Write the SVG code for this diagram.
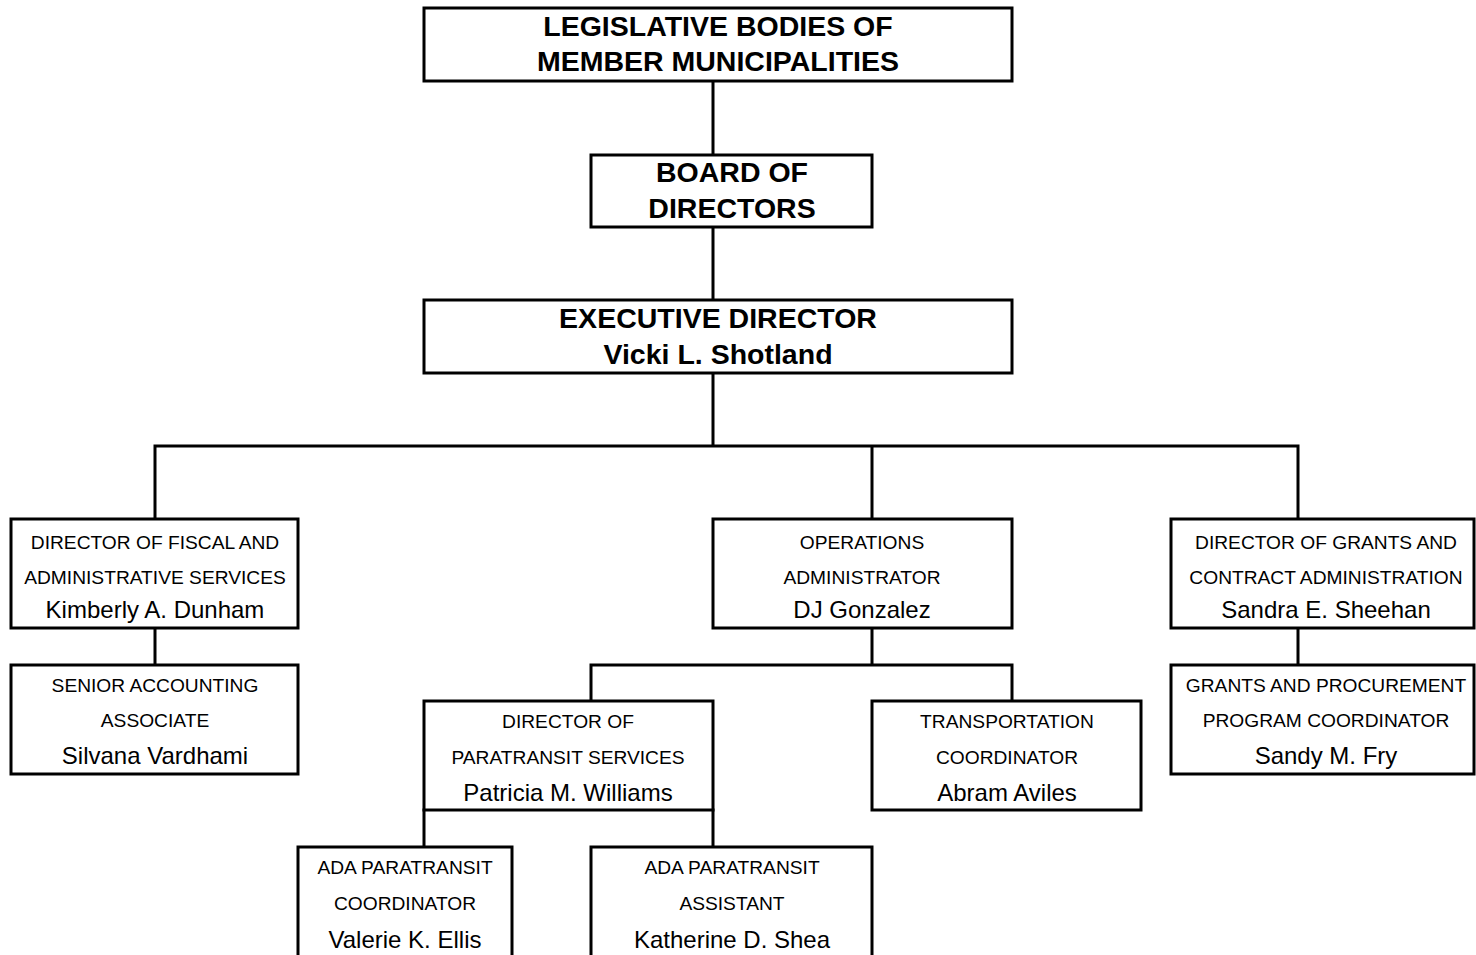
<svg xmlns="http://www.w3.org/2000/svg" width="1476" height="955" viewBox="0 0 1476 955">
<style>
.box{fill:#fff;stroke:#000;stroke-width:3}
.con{fill:none;stroke:#000;stroke-width:3;stroke-linecap:square}
text{font-family:"Liberation Sans",Arial,sans-serif;text-anchor:middle;fill:#000}
.b{font-weight:bold;font-size:28.5px}
.s{font-size:19.2px}
.n{font-size:24px}
</style>
<rect width="1476" height="955" fill="#fff"/>
<g id="connectors">
<path class="con" d="M713 81V155M713 227V300M713 373V446M155 519V446H1298V519M872 446V519"/>
<path class="con" d="M155 628V665M1298 628V665M872 628V665M591 701V665H1012V701"/>
<path class="con" d="M424 810V847M713 810V847"/>
</g>
<g id="legislative">
<rect class="box" x="424" y="8" width="588" height="73"/>
<text class="b" x="718" y="36">LEGISLATIVE BODIES OF</text>
<text class="b" x="718" y="71">MEMBER MUNICIPALITIES</text>
</g>
<g id="board">
<rect class="box" x="591" y="155" width="281" height="72"/>
<text class="b" x="732" y="182">BOARD OF</text>
<text class="b" x="732" y="218">DIRECTORS</text>
</g>
<g id="executive">
<rect class="box" x="424" y="300" width="588" height="73"/>
<text class="b" x="718" y="328">EXECUTIVE DIRECTOR</text>
<text class="b" x="718" y="364">Vicki L. Shotland</text>
</g>
<g id="fiscal">
<rect class="box" x="11" y="519" width="287" height="109"/>
<text class="s" x="155" y="549">DIRECTOR OF FISCAL AND</text>
<text class="s" x="155" y="584">ADMINISTRATIVE SERVICES</text>
<text class="n" x="155" y="618">Kimberly A. Dunham</text>
</g>
<g id="accounting">
<rect class="box" x="11" y="665" width="287" height="109"/>
<text class="s" x="155" y="692">SENIOR ACCOUNTING</text>
<text class="s" x="155" y="727">ASSOCIATE</text>
<text class="n" x="155" y="764">Silvana Vardhami</text>
</g>
<g id="operations">
<rect class="box" x="713" y="519" width="299" height="109"/>
<text class="s" x="862" y="549">OPERATIONS</text>
<text class="s" x="862" y="584">ADMINISTRATOR</text>
<text class="n" x="862" y="618">DJ Gonzalez</text>
</g>
<g id="grants">
<rect class="box" x="1171" y="519" width="303" height="109"/>
<text class="s" x="1326" y="549">DIRECTOR OF GRANTS AND</text>
<text class="s" x="1326" y="584">CONTRACT ADMINISTRATION</text>
<text class="n" x="1326" y="618">Sandra E. Sheehan</text>
</g>
<g id="procurement">
<rect class="box" x="1171" y="665" width="303" height="109"/>
<text class="s" x="1326" y="692">GRANTS AND PROCUREMENT</text>
<text class="s" x="1326" y="727">PROGRAM COORDINATOR</text>
<text class="n" x="1326" y="764">Sandy M. Fry</text>
</g>
<g id="paratransit">
<rect class="box" x="424" y="701" width="289" height="109"/>
<text class="s" x="568" y="728">DIRECTOR OF</text>
<text class="s" x="568" y="764">PARATRANSIT SERVICES</text>
<text class="n" x="568" y="801">Patricia M. Williams</text>
</g>
<g id="transportation">
<rect class="box" x="872" y="701" width="269" height="109"/>
<text class="s" x="1007" y="728">TRANSPORTATION</text>
<text class="s" x="1007" y="764">COORDINATOR</text>
<text class="n" x="1007" y="801">Abram Aviles</text>
</g>
<g id="ada-coordinator">
<rect class="box" x="298" y="847" width="214" height="120"/>
<text class="s" x="405" y="874">ADA PARATRANSIT</text>
<text class="s" x="405" y="910">COORDINATOR</text>
<text class="n" x="405" y="948">Valerie K. Ellis</text>
</g>
<g id="ada-assistant">
<rect class="box" x="591" y="847" width="281" height="120"/>
<text class="s" x="732" y="874">ADA PARATRANSIT</text>
<text class="s" x="732" y="910">ASSISTANT</text>
<text class="n" x="732" y="948">Katherine D. Shea</text>
</g>
</svg>
